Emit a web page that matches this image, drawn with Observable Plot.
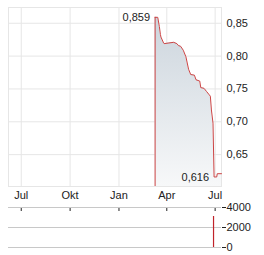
<!DOCTYPE html>
<html>
<head>
<meta charset="utf-8">
<script src="https://cdn.jsdelivr.net/npm/d3@7"></script>
<script src="https://cdn.jsdelivr.net/npm/@observablehq/plot@0.6"></script>
<style>
  html, body { margin: 0; padding: 0; background: #fff; }
  #wrap { position: relative; width: 264px; height: 255px; overflow: hidden; }
  #main, #vol { position: absolute; left: 0; }
  #main { top: 0; }
  #vol { top: 200px; }
  svg { overflow: visible; }
</style>
</head>
<body>
<div id="wrap"><div id="main"></div><div id="vol"></div></div>
<script>
// ---- data ----
const priceDates = ["2025-03-10","2025-03-15","2025-03-18","2025-03-20","2025-03-21","2025-03-26","2025-03-27","2025-04-05","2025-04-14","2025-04-20","2025-04-23","2025-04-27","2025-05-02","2025-05-07","2025-05-12","2025-05-16","2025-05-23","2025-05-26","2025-06-02","2025-06-04","2025-06-10","2025-06-15","2025-06-20","2025-06-22","2025-06-24","2025-06-27","2025-06-29","2025-07-04","2025-07-05","2025-07-13"];
const priceValues = [0.859,0.859,0.845,0.833,0.829,0.820,0.819,0.820,0.821,0.819,0.816,0.815,0.809,0.799,0.780,0.772,0.771,0.764,0.762,0.752,0.751,0.746,0.741,0.739,0.718,0.698,0.616,0.616,0.621,0.621];
const volDates = ["2025-06-28"];
const volValues = [3100];
const xTickDates = ["2024-07-01","2024-10-01","2025-01-01","2025-04-01","2025-07-01"];
const xTickLabels = ["Jul","Okt","Jan","Apr","Jul"];
const yTicks = [0.65, 0.70, 0.75, 0.80, 0.85];
const volTicks = [0, 2000, 4000];
const xDomain = ["2024-06-07","2025-07-13"];
const yDomain = [0.6015, 0.874];
const volDomain = [0, 4000];
const maxLabel = "0,859";
const minLabel = "0,616";

// ---- build ----
const parse = d3.utcParse("%Y-%m-%d");
const price = priceDates.map((d, i) => ({date: parse(d), value: priceValues[i]}));
const vol = volDates.map((d, i) => ({date: parse(d), value: volValues[i]}));
const xTicks = xTickDates.map(parse);
const xDom = xDomain.map(parse);
const font = "'Liberation Sans', Arial, sans-serif";
const comma = d => d.toFixed(2).replace(".", ",");
const maxPt = price.reduce((a, b) => b.value > a.value ? b : a);
const minPt = price.reduce((a, b) => b.value < a.value ? b : a);

const gradient = () => {
  const g = d3.create("svg:g");
  const lg = g.append("defs").append("linearGradient")
    .attr("id", "areaGrad").attr("x1", 0).attr("y1", 0).attr("x2", 0).attr("y2", 1);
  lg.append("stop").attr("offset", "0%").attr("stop-color", "#ccd5dd");
  lg.append("stop").attr("offset", "100%").attr("stop-color", "#f7f8f9");
  return g.node();
};

const main = Plot.plot({
  width: 264, height: 200,
  marginLeft: 8, marginRight: 43, marginTop: 7, marginBottom: 14,
  style: {fontSize: "11px", fontFamily: font, background: "transparent", color: "#222"},
  x: {type: "utc", domain: xDom, label: null},
  y: {domain: yDomain, label: null},
  marks: [
    gradient,
    Plot.gridX(xTicks, {stroke: "#e6e6e6", strokeOpacity: 1}),
    Plot.gridY(yTicks, {stroke: "#e6e6e6", strokeOpacity: 1}),
    Plot.frame({stroke: "#e6e6e6"}),
    Plot.areaY(price, {x: "date", y1: yDomain[0], y2: "value", fill: "url(#areaGrad)"}),
    Plot.ruleX([price[0]], {x: "date", y1: yDomain[0], y2: "value", stroke: "#cc4444", strokeWidth: 1}),
    Plot.lineY(price, {x: "date", y: "value", stroke: "#cc4444", strokeWidth: 1}),
    Plot.text([maxPt], {x: "date", y: "value", text: () => maxLabel, textAnchor: "end", dx: -5, fill: "#222", fontSize: 11}),
    Plot.text([minPt], {x: "date", y: "value", text: () => minLabel, textAnchor: "end", dx: -5, fill: "#222", fontSize: 11}),
    Plot.axisX(xTicks, {tickSize: 0, tickPadding: 5, fill: "#222", label: null,
      tickFormat: d => xTickLabels[xTicks.findIndex(t => +t === +d)]}),
    Plot.axisY(yTicks, {anchor: "right", tickSize: 0, tickPadding: 5, fill: "#222", label: null, tickFormat: comma})
  ]
});
document.getElementById("main").appendChild(main);

const volPlot = Plot.plot({
  width: 264, height: 55,
  marginLeft: 8, marginRight: 43, marginTop: 7, marginBottom: 8,
  style: {fontSize: "11px", fontFamily: font, background: "transparent", color: "#222"},
  x: {type: "utc", domain: xDom, label: null},
  y: {domain: volDomain, label: null},
  marks: [
    Plot.gridY(volTicks, {stroke: "#c8c8c8", strokeOpacity: 1}),
    Plot.axisX(xTicks, {anchor: "top", tickSize: 3, dy: 3, stroke: "#222", label: null, tickFormat: () => ""}),
    Plot.ruleX(vol, {x: "date", y: "value", stroke: "#c0222a", strokeWidth: 1.2}),
    Plot.axisY(volTicks, {anchor: "right", tickSize: 4, tickPadding: 1, fill: "#222", stroke: "#222", label: null, tickFormat: d => String(d)})
  ]
});
document.getElementById("vol").appendChild(volPlot);
</script>
</body>
</html>
